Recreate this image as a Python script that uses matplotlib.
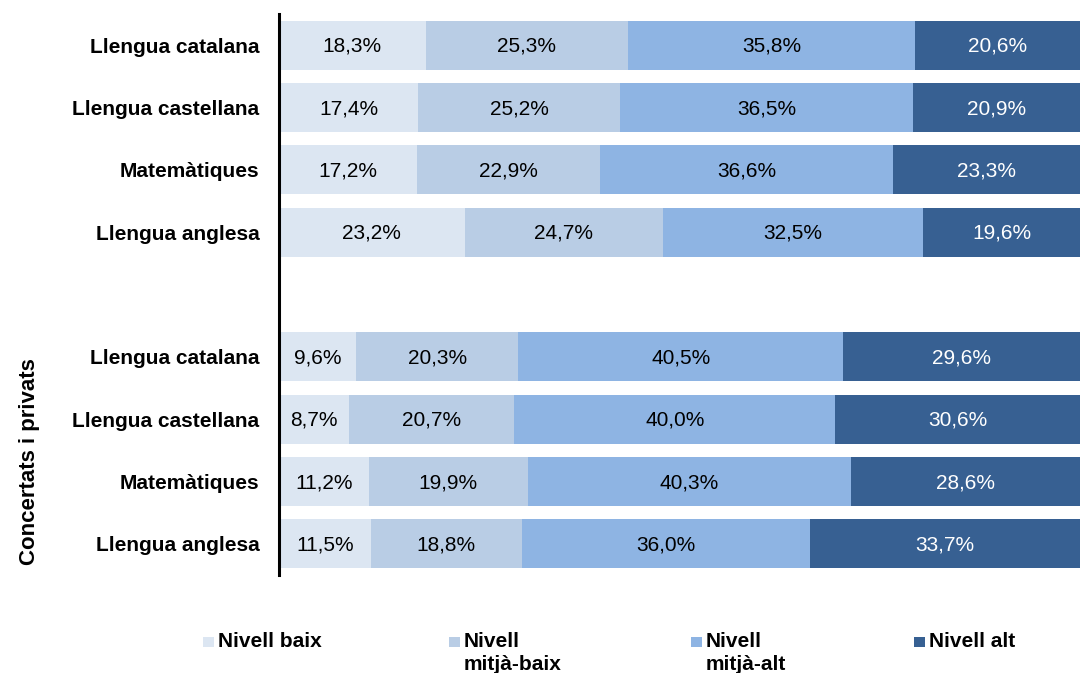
import matplotlib.pyplot as plt
from matplotlib.patches import Rectangle

plt.rcParams['font.family'] = ['Liberation Sans', 'DejaVu Sans']

# data (percent)
subjects = ['Llengua catalana', 'Llengua castellana', 'Matemàtiques', 'Llengua anglesa']
levels = ['Nivell baix', 'Nivell\nmitjà-baix', 'Nivell\nmitjà-alt', 'Nivell alt']
colors = ['#DCE6F2', '#B9CDE5', '#8EB4E3', '#376092']
text_colors = ['black', 'black', 'black', 'white']

top_baix = [18.3, 17.4, 17.2, 23.2]
top_mbaix = [25.3, 25.2, 22.9, 24.7]
top_malt = [35.8, 36.5, 36.6, 32.5]
top_alt = [20.6, 20.9, 23.3, 19.6]

priv_baix = [9.6, 8.7, 11.2, 11.5]
priv_mbaix = [20.3, 20.7, 19.9, 18.8]
priv_malt = [40.5, 40.0, 40.3, 36.0]
priv_alt = [29.6, 30.6, 28.6, 33.7]

group_label = 'Concertats i privats'

W, H = 1081, 673
fig = plt.figure(figsize=(W / 100, H / 100), dpi=100)
ax = fig.add_axes([279 / W, 1 - 575 / H, 801 / W, 561 / H])

# slots 0-3 top group, slot 4 empty, 5-8 bottom group
rows = []
for i in range(4):
    rows.append((i, [top_baix[i], top_mbaix[i], top_malt[i], top_alt[i]]))
for i in range(4):
    rows.append((i + 5, [priv_baix[i], priv_mbaix[i], priv_malt[i], priv_alt[i]]))

for y, vals in rows:
    left = 0
    for k, v in enumerate(vals):
        ax.barh(y, v, left=left, height=0.79, color=colors[k], edgecolor='none')
        ax.text(left + v / 2, y + 0.02, f'{v:.1f}%'.replace('.', ','), ha='center', va='center',
                fontsize=15, color=text_colors[k])
        left += v

ax.set_xlim(0, 100)
ax.set_ylim(8.5, -0.5)
ax.set_yticks([r[0] for r in rows])
ax.set_yticklabels(subjects + subjects, fontsize=15, fontweight='bold')
ax.tick_params(axis='y', length=0, pad=14)
ax.set_xticks([])
for s in ['top', 'right', 'bottom']:
    ax.spines[s].set_visible(False)
ax.spines['left'].set_linewidth(2.2)
ax.spines['left'].set_color('black')

fig.text(30 / W, 1 - 462 / H, group_label, rotation=90, ha='center', va='center',
         fontsize=16, fontweight='bold')

# legend drawn by hand so wrapped labels hang from the top line
leg_x = [203, 449, 691, 914]
for k, lab in enumerate(levels):
    x0 = leg_x[k] / W
    fig.patches.append(Rectangle((x0, 1 - 647 / H), 11 / W, 10 / H, transform=fig.transFigure,
                                 facecolor=colors[k], edgecolor='none'))
    fig.text(x0 + 15 / W, 1 - 632 / H, lab, ha='left', va='top', fontsize=15,
             fontweight='bold', linespacing=1.25)

fig.savefig('out.png', dpi=100)
